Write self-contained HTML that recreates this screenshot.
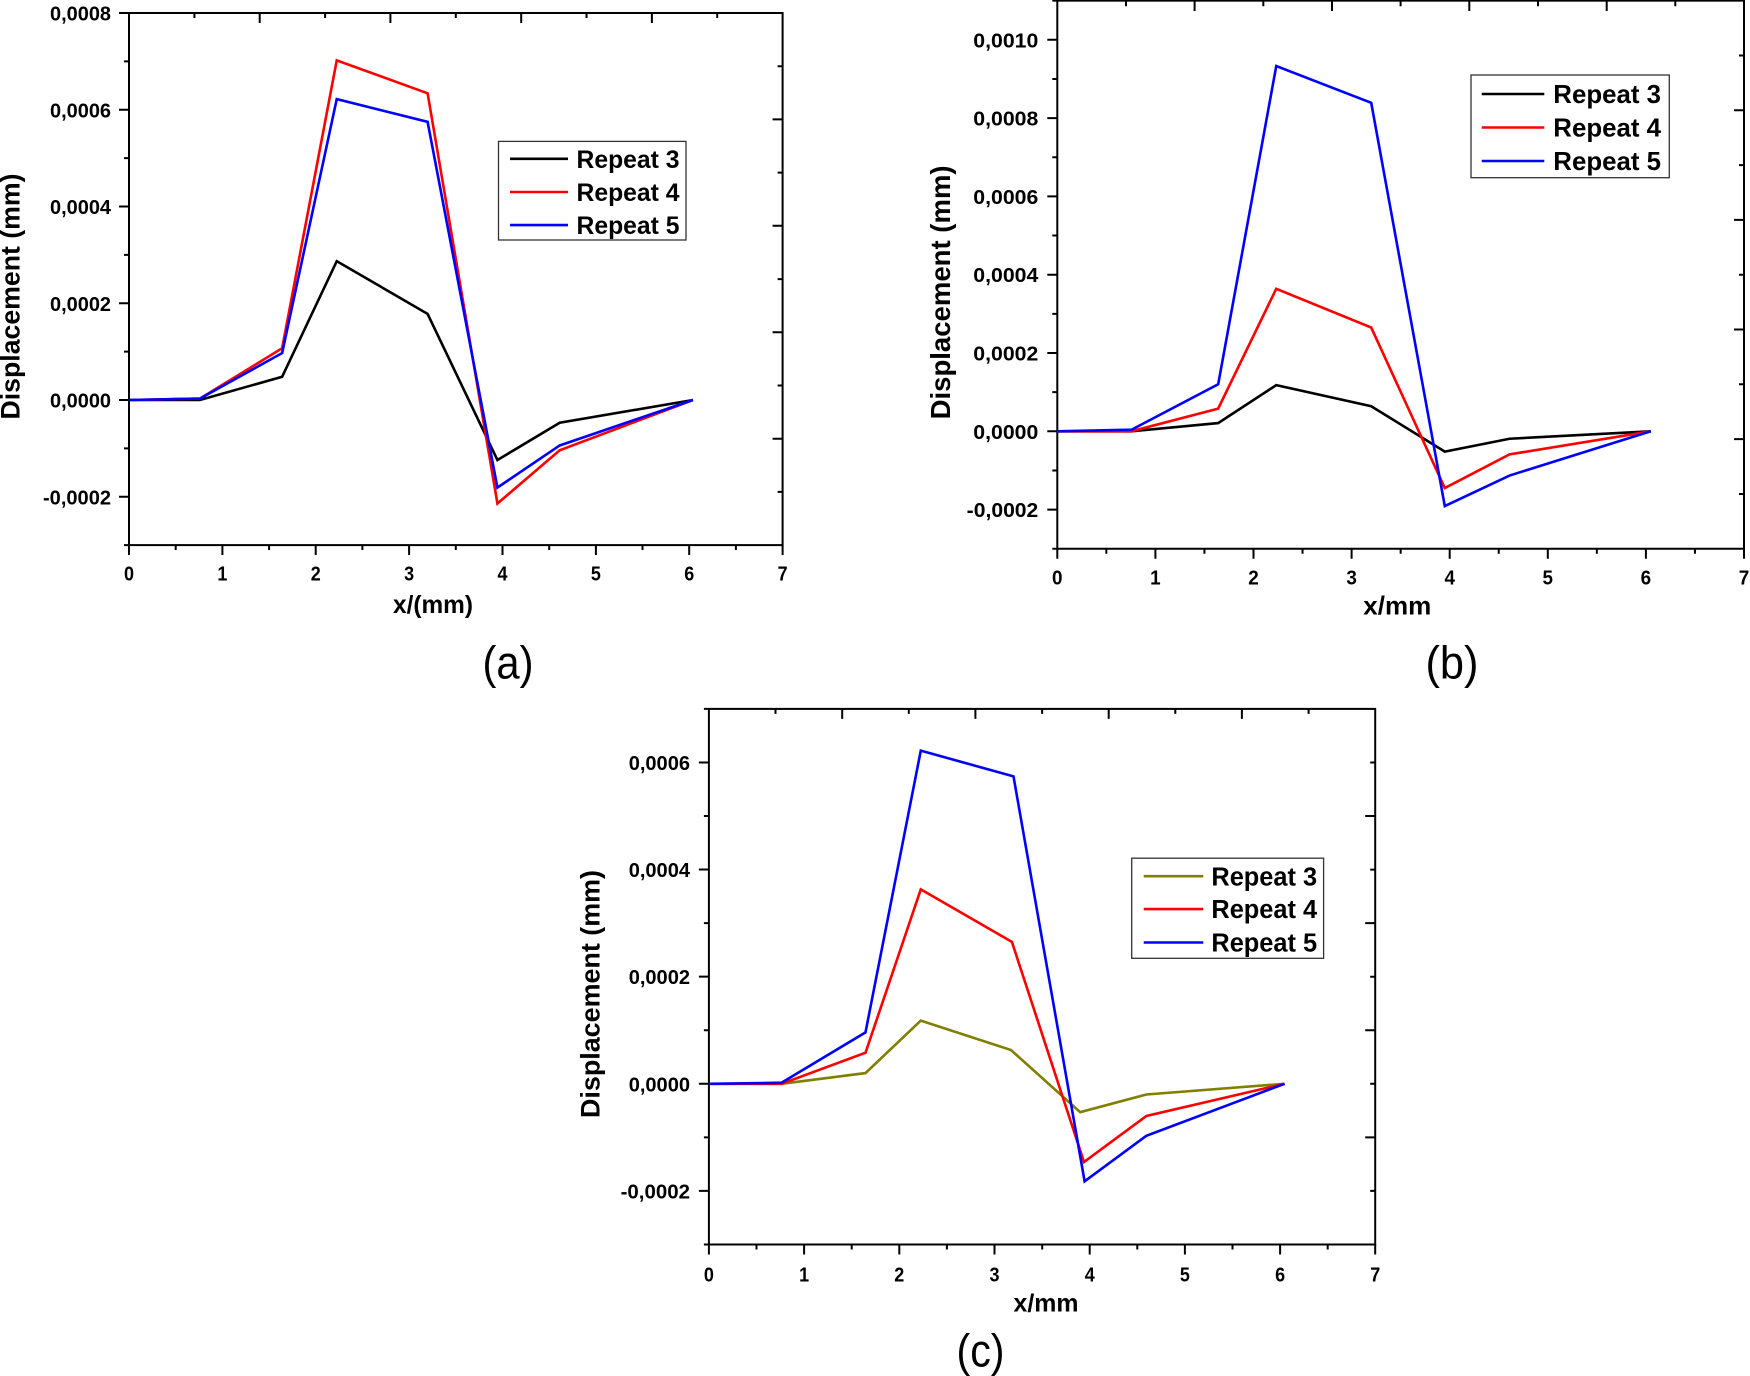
<!DOCTYPE html>
<html><head><meta charset="utf-8"><style>
html,body{margin:0;padding:0;background:#fff;}
svg{display:block;}
.t{font-family:"Liberation Sans",Arial,sans-serif;font-weight:bold;fill:#000;}
.p{font-family:"Liberation Sans",Arial,sans-serif;font-weight:normal;fill:#000;}
</style></head><body>
<svg width="1750" height="1376" viewBox="0 0 1750 1376" xmlns="http://www.w3.org/2000/svg">
<rect x="0" y="0" width="1750" height="1376" fill="#fff"/>

<!-- ================= PANEL A ================= -->
<g fill="none" stroke="#000" stroke-width="2">
<rect x="129" y="13" width="653.6" height="532.1"/>
<path d="M119 13H129M119 109.75H129M119 206.5H129M119 303.25H129M119 400H129M119 496.75H129
M124 61.4H129M124 158.1H129M124 254.9H129M124 351.6H129M124 448.4H129M124 545.1H129
M129 545V555M222.4 545V555M315.7 545V555M409.1 545V555M502.5 545V555M595.9 545V555M689.2 545V555M782.6 545V555
M175.7 545V550M269.1 545V550M362.4 545V550M455.8 545V550M549.2 545V550M642.5 545V550M735.9 545V550
M194.4 13V18M325.1 13V18M455.8 13V18M586.5 13V18M717.2 13V18
M259.7 13V23M390.4 13V23M521.2 13V23M651.9 13V23
M782.6 66.2H777.6M782.6 172.6H777.6M782.6 279.1H777.6M782.6 385.5H777.6M782.6 491.9H777.6
M782.6 119.4H772.6M782.6 225.8H772.6M782.6 332.3H772.6M782.6 438.7H772.6"/>
</g>
<g fill="none" stroke-width="2.6" stroke-linejoin="miter">
<polyline stroke="#000" points="129,400 199.96,400 282.13,376.78 336.75,261.16 427.6,313.89 497.44,460 559.71,422.74 692.95,400"/>
<polyline stroke="#ff0000" points="129,400 199.96,398.55 282.13,348.24 336.75,60.41 427.6,93.3 497.44,503.52 559.71,450.31 692.95,400"/>
<polyline stroke="#0000ff" points="129,400 199.96,398.55 282.13,353.08 336.75,99.11 427.6,121.84 497.44,487.56 559.71,445.47 692.95,400"/>
</g>
<g class="t" font-size="20.5" text-anchor="end">
<text x="111" y="20.5" textLength="61" lengthAdjust="spacingAndGlyphs">0,0008</text>
<text x="111" y="117.25" textLength="61" lengthAdjust="spacingAndGlyphs">0,0006</text>
<text x="111" y="214" textLength="61" lengthAdjust="spacingAndGlyphs">0,0004</text>
<text x="111" y="310.75" textLength="61" lengthAdjust="spacingAndGlyphs">0,0002</text>
<text x="111" y="407.5" textLength="61" lengthAdjust="spacingAndGlyphs">0,0000</text>
<text x="111" y="504.25" textLength="68" lengthAdjust="spacingAndGlyphs">-0,0002</text>
</g>
<g class="t" font-size="20" text-anchor="middle">
<text x="129" y="580.5" textLength="10" lengthAdjust="spacingAndGlyphs">0</text><text x="222.4" y="580.5" textLength="10" lengthAdjust="spacingAndGlyphs">1</text><text x="315.7" y="580.5" textLength="10" lengthAdjust="spacingAndGlyphs">2</text><text x="409.1" y="580.5" textLength="10" lengthAdjust="spacingAndGlyphs">3</text>
<text x="502.5" y="580.5" textLength="10" lengthAdjust="spacingAndGlyphs">4</text><text x="595.9" y="580.5" textLength="10" lengthAdjust="spacingAndGlyphs">5</text><text x="689.2" y="580.5" textLength="10" lengthAdjust="spacingAndGlyphs">6</text><text x="782.6" y="580.5" textLength="10" lengthAdjust="spacingAndGlyphs">7</text>
</g>
<text class="t" font-size="25" text-anchor="middle" x="433" y="613" textLength="80" lengthAdjust="spacingAndGlyphs">x/(mm)</text>
<text class="t" font-size="27" text-anchor="middle" transform="translate(19.5,296.5) rotate(-90)" x="0" y="0" textLength="246" lengthAdjust="spacingAndGlyphs">Displacement (mm)</text>
<rect x="498.5" y="141.4" width="187.5" height="98.6" fill="#fff" stroke="#333" stroke-width="1.3"/>
<g stroke-width="2.6">
<line x1="510" y1="158.8" x2="568" y2="158.8" stroke="#000"/>
<line x1="510" y1="192" x2="568" y2="192" stroke="#ff0000"/>
<line x1="510" y1="225.1" x2="568" y2="225.1" stroke="#0000ff"/>
</g>
<g class="t" font-size="25">
<text x="576.5" y="167.8" textLength="103" lengthAdjust="spacingAndGlyphs">Repeat 3</text>
<text x="576.5" y="201" textLength="103" lengthAdjust="spacingAndGlyphs">Repeat 4</text>
<text x="576.5" y="234.2" textLength="103" lengthAdjust="spacingAndGlyphs">Repeat 5</text>
</g>
<text class="p" font-size="46" text-anchor="middle" x="508" y="678.5" textLength="51" lengthAdjust="spacingAndGlyphs">(a)</text>

<!-- ================= PANEL B ================= -->
<g fill="none" stroke="#000" stroke-width="2">
<rect x="1057.3" y="0.65" width="686.7" height="548.1"/>
<path d="M1047.3 39.8H1057.3M1047.3 118.1H1057.3M1047.3 196.4H1057.3M1047.3 274.7H1057.3M1047.3 353H1057.3M1047.3 431.3H1057.3M1047.3 509.6H1057.3
M1052.3 0.65H1057.3M1052.3 78.95H1057.3M1052.3 157.25H1057.3M1052.3 235.55H1057.3M1052.3 313.85H1057.3M1052.3 392.15H1057.3M1052.3 470.45H1057.3M1052.3 548.75H1057.3
M1057.3 548.75V558.75M1155.4 548.75V558.75M1253.5 548.75V558.75M1351.6 548.75V558.75M1449.7 548.75V558.75M1547.8 548.75V558.75M1645.9 548.75V558.75M1744 548.75V558.75
M1106.35 548.75V553.75M1204.45 548.75V553.75M1302.55 548.75V553.75M1400.65 548.75V553.75M1498.75 548.75V553.75M1596.85 548.75V553.75M1694.95 548.75V553.75
M1126 0.65V6.2M1263.3 0.65V6.2M1400.6 0.65V6.2M1538 0.65V6.2M1675.3 0.65V6.2
M1194.6 0.65V11M1332 0.65V11M1469.3 0.65V11M1606.7 0.65V11
M1744 55.5H1739M1744 165.1H1739M1744 274.7H1739M1744 384.3H1739M1744 494H1739
M1744 110.3H1734M1744 219.9H1734M1744 329.5H1734M1744 439.1H1734"/>
</g>
<g fill="none" stroke-width="2.6" stroke-linejoin="miter">
<polyline stroke="#000" points="1057.3,431.3 1131.46,431.3 1218.18,423.08 1276.26,385.1 1371.22,406.24 1444.8,451.66 1509.54,438.74 1650.81,431.3"/>
<polyline stroke="#ff0000" points="1057.3,431.3 1131.46,431.3 1218.18,408.59 1276.26,288.79 1371.22,327.55 1444.8,488.07 1509.54,454.4 1650.81,431.3"/>
<polyline stroke="#0000ff" points="1057.3,431.3 1131.46,429.73 1218.18,384.32 1276.26,66.03 1371.22,102.83 1444.8,506.08 1509.54,475.54 1650.81,431.3"/>
</g>
<g class="t" font-size="20.5" text-anchor="end">
<text x="1038.3" y="47.3" textLength="65" lengthAdjust="spacingAndGlyphs">0,0010</text>
<text x="1038.3" y="125.6" textLength="65" lengthAdjust="spacingAndGlyphs">0,0008</text>
<text x="1038.3" y="203.9" textLength="65" lengthAdjust="spacingAndGlyphs">0,0006</text>
<text x="1038.3" y="282.2" textLength="65" lengthAdjust="spacingAndGlyphs">0,0004</text>
<text x="1038.3" y="360.5" textLength="65" lengthAdjust="spacingAndGlyphs">0,0002</text>
<text x="1038.3" y="438.8" textLength="65" lengthAdjust="spacingAndGlyphs">0,0000</text>
<text x="1038.3" y="517.1" textLength="71.6" lengthAdjust="spacingAndGlyphs">-0,0002</text>
</g>
<g class="t" font-size="20.5" text-anchor="middle">
<text x="1057.3" y="584.5" textLength="10.5" lengthAdjust="spacingAndGlyphs">0</text><text x="1155.4" y="584.5" textLength="10.5" lengthAdjust="spacingAndGlyphs">1</text><text x="1253.5" y="584.5" textLength="10.5" lengthAdjust="spacingAndGlyphs">2</text><text x="1351.6" y="584.5" textLength="10.5" lengthAdjust="spacingAndGlyphs">3</text>
<text x="1449.7" y="584.5" textLength="10.5" lengthAdjust="spacingAndGlyphs">4</text><text x="1547.8" y="584.5" textLength="10.5" lengthAdjust="spacingAndGlyphs">5</text><text x="1645.9" y="584.5" textLength="10.5" lengthAdjust="spacingAndGlyphs">6</text><text x="1744" y="584.5" textLength="10.5" lengthAdjust="spacingAndGlyphs">7</text>
</g>
<text class="t" font-size="26" text-anchor="middle" x="1397.3" y="614.5" textLength="68" lengthAdjust="spacingAndGlyphs">x/mm</text>
<text class="t" font-size="27.5" text-anchor="middle" transform="translate(950,292.4) rotate(-90)" x="0" y="0" textLength="254" lengthAdjust="spacingAndGlyphs">Displacement (mm)</text>
<rect x="1471" y="75" width="198.3" height="102.7" fill="#fff" stroke="#333" stroke-width="1.3"/>
<g stroke-width="2.6">
<line x1="1481.7" y1="94" x2="1544.3" y2="94" stroke="#000"/>
<line x1="1481.7" y1="127.5" x2="1544.3" y2="127.5" stroke="#ff0000"/>
<line x1="1481.7" y1="161" x2="1544.3" y2="161" stroke="#0000ff"/>
</g>
<g class="t" font-size="26">
<text x="1553.3" y="103.2" textLength="107.7" lengthAdjust="spacingAndGlyphs">Repeat 3</text>
<text x="1553.3" y="136.7" textLength="107.7" lengthAdjust="spacingAndGlyphs">Repeat 4</text>
<text x="1553.3" y="170.2" textLength="107.7" lengthAdjust="spacingAndGlyphs">Repeat 5</text>
</g>
<text class="p" font-size="46" text-anchor="middle" x="1452" y="678.5" textLength="53" lengthAdjust="spacingAndGlyphs">(b)</text>

<!-- ================= PANEL C ================= -->
<g fill="none" stroke="#000" stroke-width="2">
<rect x="708.9" y="708.9" width="666.3" height="535.6"/>
<path d="M698.9 762.44H708.9M698.9 869.56H708.9M698.9 976.68H708.9M698.9 1083.8H708.9M698.9 1190.92H708.9
M703.9 708.9H708.9M703.9 816H708.9M703.9 923.12H708.9M703.9 1030.24H708.9M703.9 1137.36H708.9M703.9 1244.48H708.9
M708.9 1244.5V1254.5M804.1 1244.5V1254.5M899.3 1244.5V1254.5M994.5 1244.5V1254.5M1089.7 1244.5V1254.5M1184.9 1244.5V1254.5M1280.1 1244.5V1254.5M1375.2 1244.5V1254.5
M756.5 1244.5V1249.5M851.7 1244.5V1249.5M946.9 1244.5V1249.5M1042.2 1244.5V1249.5M1137.3 1244.5V1249.5M1232.5 1244.5V1249.5M1327.7 1244.5V1249.5
M775.5 708.9V713.9M908.8 708.9V713.9M1042.1 708.9V713.9M1175.3 708.9V713.9M1308.6 708.9V713.9
M842.2 708.9V718.9M975.4 708.9V718.9M1108.7 708.9V718.9M1241.9 708.9V718.9
M1375.2 762.5H1370.2M1375.2 869.6H1370.2M1375.2 976.7H1370.2M1375.2 1083.8H1370.2M1375.2 1190.9H1370.2
M1375.2 816H1365.2M1375.2 923.1H1365.2M1375.2 1030.3H1365.2M1375.2 1137.4H1365.2"/>
</g>
<g fill="none" stroke-width="2.6" stroke-linejoin="miter">
<polyline stroke="#808000" points="708.9,1083.8 781.53,1083.8 865.49,1073.09 920.79,1020.6 1011,1050.06 1080.2,1112.19 1146.39,1094.51 1284.6,1083.8"/>
<polyline stroke="#ff0000" points="708.9,1083.8 781.53,1083.8 865.49,1052.74 920.79,889.38 1011.9,941.87 1084,1162 1146.39,1115.94 1284.6,1083.8"/>
<polyline stroke="#0000ff" points="708.9,1083.8 781.53,1082.73 865.49,1032.38 920.79,750.66 1013.5,776.37 1084.6,1181.28 1146.39,1135.75 1284.6,1083.8"/>
</g>
<g class="t" font-size="20.5" text-anchor="end">
<text x="690" y="769.9" textLength="61.3" lengthAdjust="spacingAndGlyphs">0,0006</text>
<text x="690" y="877.1" textLength="61.3" lengthAdjust="spacingAndGlyphs">0,0004</text>
<text x="690" y="984.2" textLength="61.3" lengthAdjust="spacingAndGlyphs">0,0002</text>
<text x="690" y="1091.3" textLength="61.3" lengthAdjust="spacingAndGlyphs">0,0000</text>
<text x="690" y="1198.4" textLength="69.4" lengthAdjust="spacingAndGlyphs">-0,0002</text>
</g>
<g class="t" font-size="20" text-anchor="middle">
<text x="708.9" y="1281.5" textLength="10" lengthAdjust="spacingAndGlyphs">0</text><text x="804.1" y="1281.5" textLength="10" lengthAdjust="spacingAndGlyphs">1</text><text x="899.3" y="1281.5" textLength="10" lengthAdjust="spacingAndGlyphs">2</text><text x="994.5" y="1281.5" textLength="10" lengthAdjust="spacingAndGlyphs">3</text>
<text x="1089.7" y="1281.5" textLength="10" lengthAdjust="spacingAndGlyphs">4</text><text x="1184.9" y="1281.5" textLength="10" lengthAdjust="spacingAndGlyphs">5</text><text x="1280.1" y="1281.5" textLength="10" lengthAdjust="spacingAndGlyphs">6</text><text x="1375.2" y="1281.5" textLength="10" lengthAdjust="spacingAndGlyphs">7</text>
</g>
<text class="t" font-size="25" text-anchor="middle" x="1046" y="1311.5" textLength="65" lengthAdjust="spacingAndGlyphs">x/mm</text>
<text class="t" font-size="27" text-anchor="middle" transform="translate(599.5,994) rotate(-90)" x="0" y="0" textLength="248" lengthAdjust="spacingAndGlyphs">Displacement (mm)</text>
<rect x="1131.7" y="858.2" width="191.9" height="100.1" fill="#fff" stroke="#333" stroke-width="1.3"/>
<g stroke-width="2.6">
<line x1="1143.7" y1="876.2" x2="1203.3" y2="876.2" stroke="#808000"/>
<line x1="1143.7" y1="909.1" x2="1203.3" y2="909.1" stroke="#ff0000"/>
<line x1="1143.7" y1="942.5" x2="1203.3" y2="942.5" stroke="#0000ff"/>
</g>
<g class="t" font-size="25.5">
<text x="1211.4" y="885.3" textLength="105.7" lengthAdjust="spacingAndGlyphs">Repeat 3</text>
<text x="1211.4" y="918.2" textLength="105.7" lengthAdjust="spacingAndGlyphs">Repeat 4</text>
<text x="1211.4" y="951.6" textLength="105.7" lengthAdjust="spacingAndGlyphs">Repeat 5</text>
</g>
<text class="p" font-size="46" text-anchor="middle" x="980.5" y="1366.5" textLength="48" lengthAdjust="spacingAndGlyphs">(c)</text>
</svg>
</body></html>
